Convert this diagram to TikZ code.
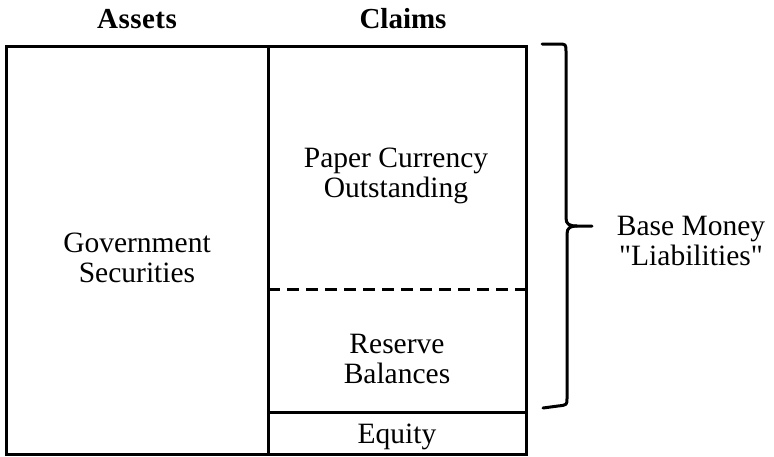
\documentclass[tikz,border=0pt]{standalone}
\usepackage{fontspec}
\setmainfont{Liberation Serif}
\newfontfamily\plainserif{Liberation Serif}
\begin{document}
\begin{tikzpicture}[x=1pt,y=-1pt,
  frame/.style={line width=3pt},
  lbl/.style={align=center,inner sep=0pt,font=\plainserif\fontsize{29.5}{30}\selectfont},
  head/.style={inner sep=0pt,font=\plainserif\fontsize{29}{30}\selectfont\bfseries}]
\useasboundingbox (0,0) rectangle (774,456);
% boxes
\draw[frame] (6,46) rectangle (526,454);
\draw[frame] (268,46) -- (268,454);
\draw[frame,dash pattern=on 12pt off 7pt] (268,289) -- (526,289);
\draw[frame] (268,412) -- (526,412);
% labels
\node[head] (assets) at (137,19) {A\kern0.5pt s\kern0.5pt s\kern0.5pt e\kern0.5pt t\kern0.5pt s};
\node[head] (claims) at (403,19) {Claims};
\node[lbl] (gov) at (137,258) {Government\\Securities};
\node[lbl] (paper) at (396,176) {Paper Currency\\Outstanding};
\node[lbl] (res) at (397,359) {Reserve\\Balances};
\node[lbl] (eq) at (397,437) {Equity};
\node[lbl] (base) at (691,241) {Base Money\\"Liabilities"};
% brace
\coordinate (btop) at (542,44);
\coordinate (bbot) at (543,408);
\coordinate (btip) at (592,226);
\draw[line width=3pt,line cap=round,line join=round]
  (btop) -- (558,44) .. controls (566,44) .. (566,52) -- (566,218)
  .. controls (566,224) and (569,226) .. (577,226) -- (btip);
\draw[line width=3pt,line cap=round,line join=round]
  (bbot) -- (558,406) .. controls (567,405) .. (567,398) -- (567,234)
  .. controls (567,228) and (570,226) .. (577,226);
\end{tikzpicture}
\end{document}
